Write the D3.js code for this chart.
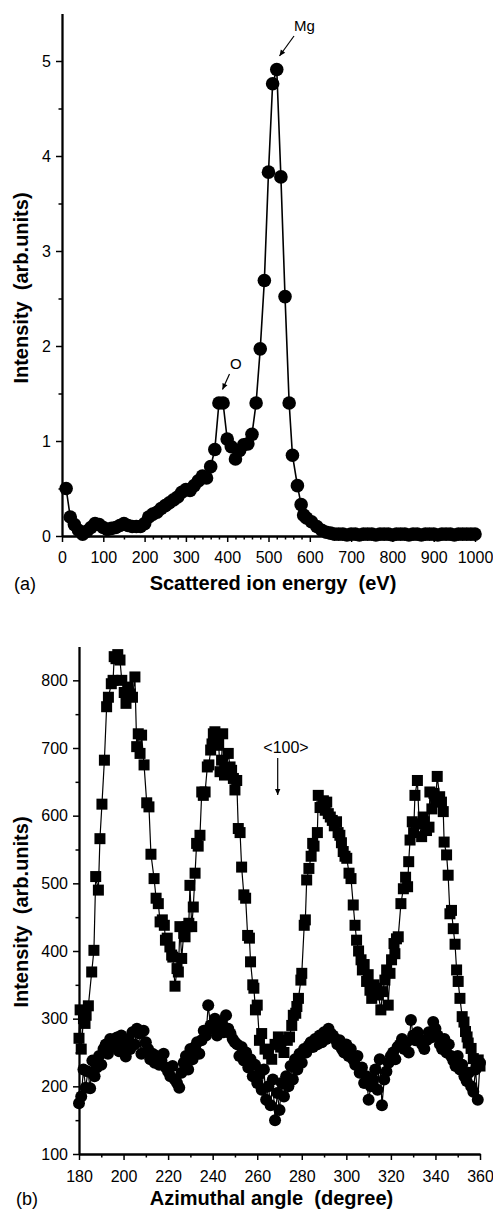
<!DOCTYPE html>
<html>
<head>
<meta charset="utf-8">
<script src="https://cdn.jsdelivr.net/npm/d3@7"></script>
<style>
  html, body { margin: 0; padding: 0; background: #fff; }
  svg { display: block; }
  .axis path, .axis line { stroke: #000; }
  .axis text { font-family: "Liberation Sans", Arial, sans-serif; font-size: 16px; fill: #000; }
  .title { font-family: "Liberation Sans", Arial, sans-serif; font-weight: bold; font-size: 20px; fill: #000; white-space: pre; }
  .note { font-family: "Liberation Sans", Arial, sans-serif; fill: #000; }
</style>
</head>
<body>
<svg id="fig" width="493" height="1209"></svg>
<script>
// ---------- (a) scattered-ion energy spectrum: [energy eV, intensity] ----------
const spectrum = [
  [10,0.50],[20,0.20],[30,0.12],[40,0.06],[50,0.02],[60,0.05],[70,0.09],[80,0.13],[90,0.12],[100,0.09],
  [110,0.07],[120,0.08],[130,0.09],[140,0.11],[150,0.13],[160,0.11],[170,0.10],[180,0.10],[190,0.10],[200,0.13],
  [210,0.20],[220,0.23],[230,0.25],[240,0.29],[250,0.32],[260,0.35],[270,0.38],[280,0.41],[290,0.46],[300,0.49],
  [310,0.48],[320,0.53],[330,0.58],[340,0.63],[350,0.61],[360,0.73],[370,0.91],[380,1.40],[390,1.40],[400,1.02],
  [410,0.94],[420,0.81],[430,0.90],[440,0.96],[450,0.97],[460,1.07],[470,1.40],[480,1.97],[490,2.69],[500,3.83],
  [510,4.76],[520,4.91],[530,3.78],[540,2.52],[550,1.40],[558,0.85],[570,0.53],[579,0.33],[585,0.22],[592,0.19],
  [604,0.15],[617,0.10],[629,0.06],[640,0.04],[650,0.03],[660,0.02],[670,0.02],[680,0.02],[690,0.01],[700,0.02],
  [710,0.02],[720,0.01],[730,0.02],[740,0.02],[750,0.02],[760,0.01],[770,0.02],[780,0.02],[790,0.02],[800,0.01],
  [810,0.02],[820,0.02],[830,0.02],[840,0.01],[850,0.02],[860,0.02],[870,0.01],[880,0.02],[890,0.02],[900,0.02],
  [910,0.01],[920,0.02],[930,0.02],[940,0.02],[950,0.01],[960,0.02],[970,0.02],[980,0.02],[990,0.02],[1000,0.02]
];
const energyTicks = [0,100,200,300,400,500,600,700,800,900,1000];
const energyMinorTicks = [50,150,220,240,260,280,320,340,360,380,420,440,460,480,520,540,560,580];
const intensityTicksA = [0,1,2,3,4,5];
const intensityMinorA = [0.5,1.5,2.5,3.5,4.5];

// ---------- (b) azimuthal scans: [angle deg, intensity] ----------
const squareScan = [
  [180.0,271],[180.5,313],[181.0,255],[182.0,300],[182.7,293],[183.2,305],[184.2,319],[185.7,369],[186.7,401],[187.5,510],
  [188.7,490],[189.4,566],[190.3,617],[191.4,682],[192.4,761],[193.2,775],[194.5,795],[195.3,800],[195.8,835],[196.6,832],
  [197.4,838],[198.4,830],[199.2,800],[200.3,782],[201.1,766],[202.0,790],[203.0,780],[204.0,775],[205.1,805],[205.9,702],
  [206.6,721],[207.4,692],[208.1,719],[209.2,675],[210.4,619],[211.4,613],[212.3,543],[213.7,507],[214.6,478],[215.6,470],
  [216.4,443],[217.4,446],[218.3,438],[218.8,416],[219.6,419],[220.8,406],[221.6,394],[222.1,391],[223.1,348],[224.0,374],
  [224.6,369],[225.3,436],[226.1,389],[227.0,426],[227.6,421],[228.5,436],[229.3,441],[229.8,497],[230.6,436],[231.3,465],
  [232.1,515],[232.8,559],[233.5,555],[234.3,571],[235.1,635],[235.8,630],[236.6,635],[237.6,672],[238.3,675],[239.1,697],
  [239.7,706],[240.3,721],[241.0,724],[242.0,704],[242.7,706],[243.3,665],[244.0,682],[244.5,721],[245.3,660],[246.2,670],
  [247.0,692],[247.8,672],[248.5,667],[249.3,655],[250.0,638],[250.8,652],[251.5,581],[252.3,575],[253.0,524],[254.0,483],
  [254.8,478],[255.7,423],[256.5,419],[257.0,384],[258.0,350],[258.5,345],[259.2,313],[260.0,320],[261.0,268],[262.0,278],
  [263.5,255],[265.0,248],[266.5,240],[268.0,262],[269.5,273],[270.5,258],[272.0,250],[273.5,268],[274.5,273],[275.5,290],
  [276.2,305],[277.3,308],[277.8,318],[278.5,330],[279.6,357],[280.0,367],[281.1,438],[281.6,446],[282.2,505],[283.2,522],
  [284.2,540],[284.9,559],[285.5,555],[287.0,575],[287.4,630],[288.2,612],[288.9,613],[289.7,622],[290.5,608],[291.2,620],
  [291.9,603],[292.8,598],[293.7,593],[294.6,585],[295.6,591],[296.3,575],[297.1,571],[297.8,560],[298.6,547],[299.4,540],
  [300.2,537],[301.2,515],[302.1,507],[303.1,468],[303.9,438],[304.6,416],[305.5,400],[306.6,387],[307.2,372],[308.0,380],
  [309.1,355],[309.8,365],[310.6,342],[311.4,330],[312.4,350],[313.6,345],[314.4,335],[315.5,313],[316.3,340],[317.3,357],
  [318.1,372],[318.8,320],[319.6,367],[320.3,387],[321.4,411],[321.8,396],[322.5,418],[323.3,421],[324.5,470],[325.6,492],
  [326.6,509],[327.5,495],[328.0,532],[328.6,564],[329.6,591],[330.2,575],[330.8,630],[331.9,652],[332.7,588],[333.8,569],
  [334.5,598],[335.0,591],[336.0,578],[337.1,583],[337.5,635],[338.4,610],[339.3,633],[340.1,625],[340.8,658],[341.9,628],
  [342.7,620],[343.5,606],[343.9,561],[345.0,542],[345.7,512],[346.5,455],[347.2,460],[348.0,433],[348.8,410],[349.5,372],
  [350.2,355],[351.0,330],[352.0,303],[352.8,295],[353.5,281],[354.2,273],[354.7,264],[356.0,256],[357.0,241],[358.3,232],
  [359.2,239],[360.0,230]
];
const circleScan = [
  [180,175],[181,185],[182,225],[183,198],[184,222],[185,197],[186,238],[187,215],[188,228],[189,245],
  [190,232],[191,255],[192,262],[193,248],[194,270],[195,258],[196,265],[197,272],[198,252],[199,275],
  [200,262],[201,244],[202,268],[203,255],[204,280],[205,262],[206,285],[207,278],[208,248],[209,282],
  [210,265],[211,255],[212,240],[213,248],[214,235],[215,245],[216,232],[217,238],[218,248],[219,228],
  [220,222],[221,215],[222,230],[223,210],[224,205],[225,198],[226,220],[227,235],[228,245],[229,225],
  [230,255],[231,240],[232,258],[233,265],[234,248],[235,268],[236,282],[237,275],[238,320],[239,290],
  [240,285],[241,300],[242,275],[243,290],[244,295],[245,280],[246,305],[247,285],[248,278],[249,270],
  [250,265],[251,262],[252,245],[253,258],[254,238],[255,250],[256,228],[257,240],[258,215],[259,232],
  [260,205],[261,218],[262,195],[263,225],[264,180],[265,200],[266,172],[267,210],[268,150],[269,190],
  [270,165],[271,205],[272,185],[273,215],[274,200],[275,230],[276,210],[277,240],[278,225],[279,248],
  [280,235],[281,255],[282,250],[283,260],[284,265],[285,258],[286,270],[287,262],[288,275],[289,265],
  [290,280],[291,270],[292,285],[293,278],[294,275],[295,270],[296,262],[297,268],[298,255],[299,250],
  [300,262],[301,245],[302,255],[303,240],[304,232],[305,245],[306,220],[307,228],[308,205],[309,215],
  [310,180],[311,200],[312,210],[313,225],[314,195],[315,240],[316,172],[317,210],[318,222],[319,235],
  [320,245],[321,250],[322,240],[323,258],[324,262],[325,270],[326,255],[327,265],[328,250],[329,298],
  [330,275],[331,268],[332,280],[333,270],[334,262],[335,255],[336,268],[337,280],[338,272],[339,295],
  [340,285],[341,275],[342,262],[343,255],[344,270],[345,250],[346,262],[347,245],[348,238],[349,230],
  [350,245],[351,225],[352,232],[353,215],[354,208],[355,220],[356,200],[357,192],[358,225],[359,180],
  [360,235]
];
const angleTicks = [180,200,220,240,260,280,300,320,340,360];
const angleMinorTicks = [190,210,230,250,270,290,310,330,350];
const intensityTicksB = [100,200,300,400,500,600,700,800];
const intensityMinorB = [150,250,350,450,550,650,750];

const svg = d3.select("#fig");
const intFmt = d3.format("d");

// small helper for annotation arrows (line + filled head at the end point)
function arrow(g, x1, y1, x2, y2, head) {
  g.append("line").attr("x1", x1).attr("y1", y1).attr("x2", x2).attr("y2", y2)
    .attr("stroke", "#000").attr("stroke-width", 1.2);
  const a = Math.atan2(y2 - y1, x2 - x1), w = head * 0.45;
  const bx = x2 - head * Math.cos(a), by = y2 - head * Math.sin(a);
  g.append("path")
    .attr("d", `M${x2},${y2}L${bx + w * Math.sin(a)},${by - w * Math.cos(a)}L${bx - w * Math.sin(a)},${by + w * Math.cos(a)}Z`)
    .attr("fill", "#000");
}

function styleAxis(sel) {
  sel.attr("class", "axis");
  sel.select(".domain").attr("stroke-width", 1.8);
  sel.selectAll(".tick line").attr("stroke-width", 1.5);
}

// ================= panel (a) =================
const xA = d3.scaleLinear().domain([0, 1000]).range([62, 475]);
const yA = d3.scaleLinear().domain([0, 5.5]).range([536, 13.5]);
const gA = svg.append("g");

gA.append("g").attr("transform", "translate(0,536)")
  .call(d3.axisBottom(xA).tickValues(energyMinorTicks).tickSize(3.5).tickFormat("").tickSizeOuter(0))
  .call(styleAxis);
gA.append("g").attr("transform", "translate(0,536)")
  .call(d3.axisBottom(xA).tickValues(energyTicks).tickSize(6).tickPadding(10).tickFormat(intFmt).tickSizeOuter(0))
  .call(styleAxis);
gA.append("g").attr("transform", "translate(62,0)")
  .call(d3.axisLeft(yA).tickValues(intensityMinorA).tickSize(3.5).tickFormat("").tickSizeOuter(0))
  .call(styleAxis);
gA.append("g").attr("transform", "translate(62,0)")
  .call(d3.axisLeft(yA).tickValues(intensityTicksA).tickSize(6).tickPadding(5).tickFormat(intFmt).tickSizeOuter(0))
  .call(styleAxis);

gA.append("path").datum(spectrum)
  .attr("d", d3.line().x(d => xA(d[0])).y(d => yA(d[1])))
  .attr("fill", "none").attr("stroke", "#000").attr("stroke-width", 1.6);
gA.append("g").selectAll("circle").data(spectrum).join("circle")
  .attr("cx", d => xA(d[0])).attr("cy", d => yA(d[1])).attr("r", 6.8).attr("fill", "#000");

gA.append("text").attr("class", "title").attr("x", 273).attr("y", 590)
  .attr("text-anchor", "middle").text("Scattered ion energy  (eV)");
gA.append("text").attr("class", "title").attr("text-anchor", "middle")
  .attr("transform", "translate(27.5,288) rotate(-90)").text("Intensity  (arb.units)");
gA.append("text").attr("class", "note").attr("x", 14).attr("y", 590)
  .style("font-size", "18px").text("(a)");

gA.append("text").attr("class", "note").attr("x", 294).attr("y", 30.5)
  .style("font-size", "15px").text("Mg");
arrow(gA, 294, 36, 279.5, 56, 6);
gA.append("text").attr("class", "note").attr("x", 230).attr("y", 369)
  .style("font-size", "15px").text("O");
arrow(gA, 229.5, 374, 222.5, 389.5, 6);

// ================= panel (b) =================
const xB = d3.scaleLinear().domain([180, 360]).range([79, 480]);
const yB = d3.scaleLinear().domain([100, 850]).range([1154, 646.5]);
const gB = svg.append("g");

gB.append("g").attr("transform", "translate(0,1154)")
  .call(d3.axisBottom(xB).tickValues(angleMinorTicks).tickSize(3.5).tickFormat("").tickSizeOuter(0))
  .call(styleAxis);
gB.append("g").attr("transform", "translate(0,1154)")
  .call(d3.axisBottom(xB).tickValues(angleTicks).tickSize(6).tickPadding(10.6).tickFormat(intFmt).tickSizeOuter(0))
  .call(styleAxis);
gB.append("g").attr("transform", "translate(79,0)")
  .call(d3.axisLeft(yB).tickValues(intensityMinorB).tickSize(3.5).tickFormat("").tickSizeOuter(0))
  .call(styleAxis);
gB.append("g").attr("transform", "translate(79,0)")
  .call(d3.axisLeft(yB).tickValues(intensityTicksB).tickSize(6).tickPadding(5).tickFormat(intFmt).tickSizeOuter(0))
  .call(styleAxis);

const lineB = d3.line().x(d => xB(d[0])).y(d => yB(d[1]));
gB.append("path").datum(circleScan).attr("d", lineB)
  .attr("fill", "none").attr("stroke", "#000").attr("stroke-width", 1.2);
gB.append("g").selectAll("circle").data(circleScan).join("circle")
  .attr("cx", d => xB(d[0])).attr("cy", d => yB(d[1])).attr("r", 6).attr("fill", "#000");
gB.append("path").datum(squareScan).attr("d", lineB)
  .attr("fill", "none").attr("stroke", "#000").attr("stroke-width", 1.2);
gB.append("g").selectAll("rect").data(squareScan).join("rect")
  .attr("x", d => xB(d[0]) - 5.5).attr("y", d => yB(d[1]) - 5.5)
  .attr("width", 11).attr("height", 11).attr("fill", "#000");

gB.append("text").attr("class", "title").attr("x", 271.5).attr("y", 1204.5)
  .attr("text-anchor", "middle").text("Azimuthal angle  (degree)");
gB.append("text").attr("class", "title").attr("text-anchor", "middle")
  .attr("transform", "translate(27.5,912) rotate(-90)").text("Intensity  (arb.units)");
gB.append("text").attr("class", "note").attr("x", 16).attr("y", 1205)
  .style("font-size", "18px").text("(b)");

gB.append("text").attr("class", "note").attr("x", 286).attr("y", 753)
  .attr("text-anchor", "middle").style("font-size", "16px").text("<100>");
arrow(gB, 277.7, 758, 277.7, 795, 6);
</script>
</body>
</html>
